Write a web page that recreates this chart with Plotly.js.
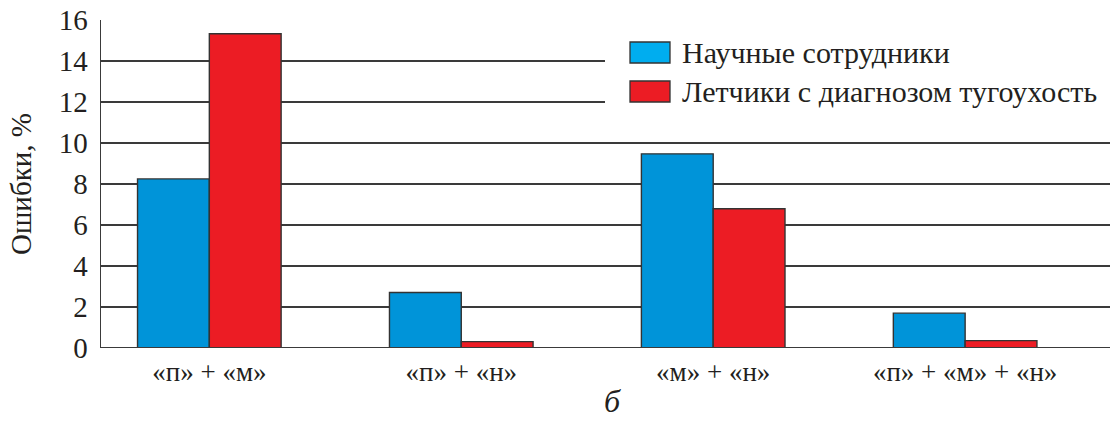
<!DOCTYPE html>
<html>
<head>
<meta charset="utf-8">
<script src="https://cdn.plot.ly/plotly-3.0.1.min.js"></script>
<style>
html,body{margin:0;padding:0;background:#fff;}
#chart{width:1110px;height:421px;}
</style>
</head>
<body>
<div id="chart"></div>
<script>
const categories = ['«п» + «м»', '«п» + «н»', '«м» + «н»', '«п» + «м» + «н»'];
const seriesNames = ['Научные сотрудники', 'Летчики с диагнозом тугоухость'];
const scientists = [8.25, 2.71, 9.47, 1.70];
const pilots = [15.33, 0.31, 6.79, 0.36];
const yTicks = [0, 2, 4, 6, 8, 10, 12, 14, 16];
const yTitle = 'Ошибки, %';
const panelLabel = 'б';

const font = 'Liberation Serif';
const ink = '#231f20';
const colors = ['#0094d9', '#ec1c24'];
const legendColors = ['#00adef', '#ec1c24'];
const traces = [
  {type: 'bar', name: seriesNames[0], x: categories, y: scientists, showlegend: false,
   marker: {color: colors[0], line: {color: '#333333', width: 1.4}}},
  {type: 'bar', name: seriesNames[1], x: categories, y: pilots, showlegend: false,
   marker: {color: colors[1], line: {color: '#333333', width: 1.4}}}
];

// legend drawn in paper coordinates (plot area: x 101..1110, y 20..348)
const pw = 1009, ph = 328;
const px = v => (v - 101) / pw;
const py = v => (348 - v) / ph;
const shapes = [
  {type: 'rect', xref: 'paper', yref: 'paper', x0: px(605), x1: 1, y0: py(118), y1: py(30),
   fillcolor: '#fff', line: {width: 0}, layer: 'above'}
];
const annotations = [];
seriesNames.forEach((name, i) => {
  const cy = 52.5 + i * 39;
  shapes.push({type: 'rect', xref: 'paper', yref: 'paper', x0: px(630), x1: px(670),
    y0: py(cy + 10.5), y1: py(cy - 10.5), fillcolor: legendColors[i],
    line: {color: '#333333', width: 1.3}, layer: 'above'});
  annotations.push({text: name, xref: 'paper', yref: 'paper', x: px(680), y: py(cy),
    xanchor: 'left', yanchor: 'middle', showarrow: false,
    font: {family: font, size: 30, color: ink}});
});
annotations.push({text: '<i>' + panelLabel + '</i>', xref: 'paper', yref: 'paper', x: px(612), y: py(421),
  xanchor: 'center', yanchor: 'bottom', showarrow: false, font: {family: font, size: 32, color: ink}});
shapes.push({type: 'line', xref: 'paper', yref: 'y', x0: 0, x1: 1, y0: 0, y1: 0, line: {color: '#3a3a3a', width: 2}});

const layout = {
  width: 1110, height: 421,
  margin: {l: 101, r: 0, t: 20, b: 73, pad: 0},
  paper_bgcolor: '#fff', plot_bgcolor: '#fff',
  font: {family: font, color: ink, size: 24},
  barmode: 'group', bargap: 0.43, bargroupgap: 0,
  showlegend: false,
  xaxis: {type: 'category', range: [-0.43, 3.575], showgrid: false, zeroline: false,
          showline: false, ticks: '', tickfont: {family: font, size: 27, color: ink}, ticklabelstandoff: 5},
  yaxis: {range: [0, 16], tickvals: yTicks, ticktext: yTicks.map(String),
          showgrid: true, gridcolor: '#3a3a3a', gridwidth: 1.3, zeroline: false,
          showline: true, linecolor: '#3a3a3a', linewidth: 1.5, mirror: false, ticks: '',
          tickfont: {family: font, size: 29, color: ink}, ticklabelstandoff: 6,
          title: {text: yTitle, font: {family: font, size: 29, color: ink}, standoff: 18}},
  shapes: shapes,
  annotations: annotations
};
Plotly.newPlot('chart', traces, layout, {displayModeBar: false, staticPlot: true});
</script>
</body>
</html>
